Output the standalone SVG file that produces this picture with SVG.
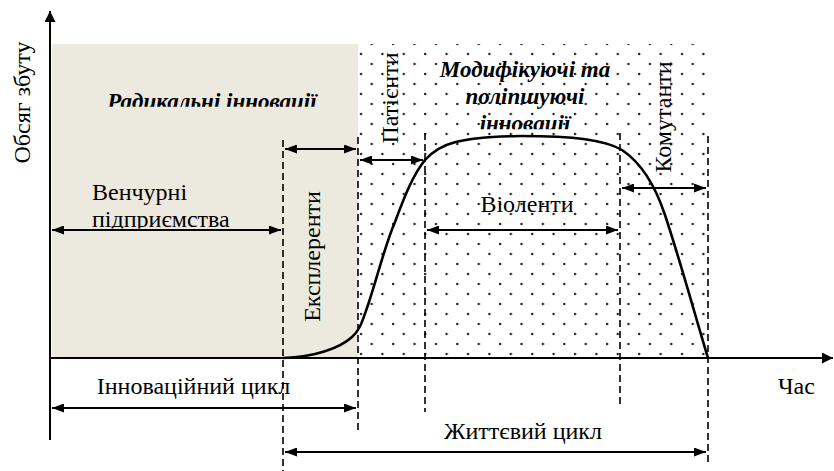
<svg xmlns="http://www.w3.org/2000/svg" width="834" height="471" viewBox="0 0 834 471">
<style>
.dash{stroke:#000;stroke-width:1.6;stroke-dasharray:7,4;fill:none}
.arr{stroke:#000;stroke-width:2;fill:none;marker-start:url(#ah);marker-end:url(#ah)}
.ax{stroke:#000;stroke-width:2;fill:none}
.bi{font-size:23px;font-weight:bold;font-style:italic}
</style>
<defs>
<marker id="ah" markerUnits="userSpaceOnUse" markerWidth="13" markerHeight="9" refX="12" refY="4.5" orient="auto-start-reverse">
<path d="M0,0 L12,4.5 L0,9 z" fill="#000"/>
</marker>
<marker id="axh" markerUnits="userSpaceOnUse" markerWidth="12" markerHeight="12" refX="11" refY="5.5" orient="auto">
<path d="M0,0 L11,5.5 L0,11 z" fill="#000"/>
</marker>
<pattern id="dots" patternUnits="userSpaceOnUse" x="356" y="49" width="21.4" height="20">
<circle cx="5" cy="5" r="1.25" fill="#222"/>
<circle cx="15.7" cy="15" r="1.25" fill="#222"/>
</pattern>
<clipPath id="c1"><rect x="0" y="0" width="834" height="106.8"/></clipPath>
<clipPath id="c2"><rect x="0" y="0" width="834" height="129.3"/></clipPath>
<clipPath id="c3"><rect x="0" y="0" width="834" height="228.5"/></clipPath>
</defs>

<g id="areas">
<rect x="52" y="44" width="306" height="314" fill="#ECE9DF"/>
<rect x="358" y="44" width="350" height="314" fill="url(#dots)"/>
</g>

<g id="curve">
<path d="M283,358 C315,357 340,348 352,337 C360,330 362,322 368,305 C378,275 385,245 395,222 C405,195 413,175 425,160 C440,143 460,137 520,136 C575,136 605,140 622,150 C640,162 655,185 665,215 C680,260 695,315 708,358" fill="none" stroke="#000" stroke-width="2.6"/>
</g>

<g id="connectors">
<line class="ax" x1="50" y1="440" x2="50" y2="11" marker-end="url(#axh)"/>
<line class="ax" x1="50" y1="358" x2="833" y2="358" marker-end="url(#axh)"/>
<line class="dash" x1="283" y1="140" x2="283" y2="471"/>
<line class="dash" x1="358" y1="137" x2="358" y2="434"/>
<line class="dash" x1="425" y1="133" x2="425" y2="412"/>
<line class="dash" x1="620" y1="133" x2="620" y2="408"/>
<line class="dash" x1="708" y1="136" x2="708" y2="465"/>
<line class="arr" x1="52" y1="230" x2="281" y2="230"/>
<line class="arr" x1="285" y1="149" x2="356" y2="149"/>
<line class="arr" x1="360" y1="160" x2="423" y2="160"/>
<line class="arr" x1="427" y1="230" x2="618" y2="230"/>
<line class="arr" x1="622" y1="188" x2="706" y2="188"/>
<line class="arr" x1="52" y1="408" x2="356" y2="408"/>
<line class="arr" x1="285" y1="452" x2="706" y2="452"/>
</g>

<g font-family="Liberation Serif, Tinos, Times New Roman, serif" font-size="24" fill="#000">
<g id="y-label"><text transform="translate(30,102.5) rotate(-90)" text-anchor="middle">Обсяг збуту</text></g>
<g id="x-label"><text x="778" y="394">Час</text></g>
<g id="radical">
<text class="bi" x="212" y="108.5" text-anchor="middle" clip-path="url(#c1)">Радикальні інновації</text>
</g>
<g id="venture">
<text x="92" y="200">Венчурні</text>
<text x="92" y="227" clip-path="url(#c3)">підприємства</text>
</g>
<g id="explerenty">
<text transform="translate(320,256.5) rotate(-90)" text-anchor="middle">Експлеренти</text>
</g>
<g id="patienty">
<text transform="translate(398,98) rotate(-90)" text-anchor="middle">Патієнти</text>
</g>
<g id="modifying">
<text class="bi" x="525" y="77" text-anchor="middle">Модифікуючі та</text>
<text class="bi" x="525" y="103.5" text-anchor="middle">поліпшуючі</text>
<text class="bi" x="525" y="131" text-anchor="middle" clip-path="url(#c2)">інновації</text>
</g>
<g id="violenty">
<text x="527" y="211.7" text-anchor="middle">Віоленти</text>
</g>
<g id="komutanty">
<text transform="translate(671,117) rotate(-90)" text-anchor="middle">Комутанти</text>
</g>
<g id="innov-cycle">
<text x="193.5" y="394" text-anchor="middle">Інноваційний цикл</text>
</g>
<g id="life-cycle">
<text x="523" y="439" text-anchor="middle">Життєвий цикл</text>
</g>
</g>
</svg>
